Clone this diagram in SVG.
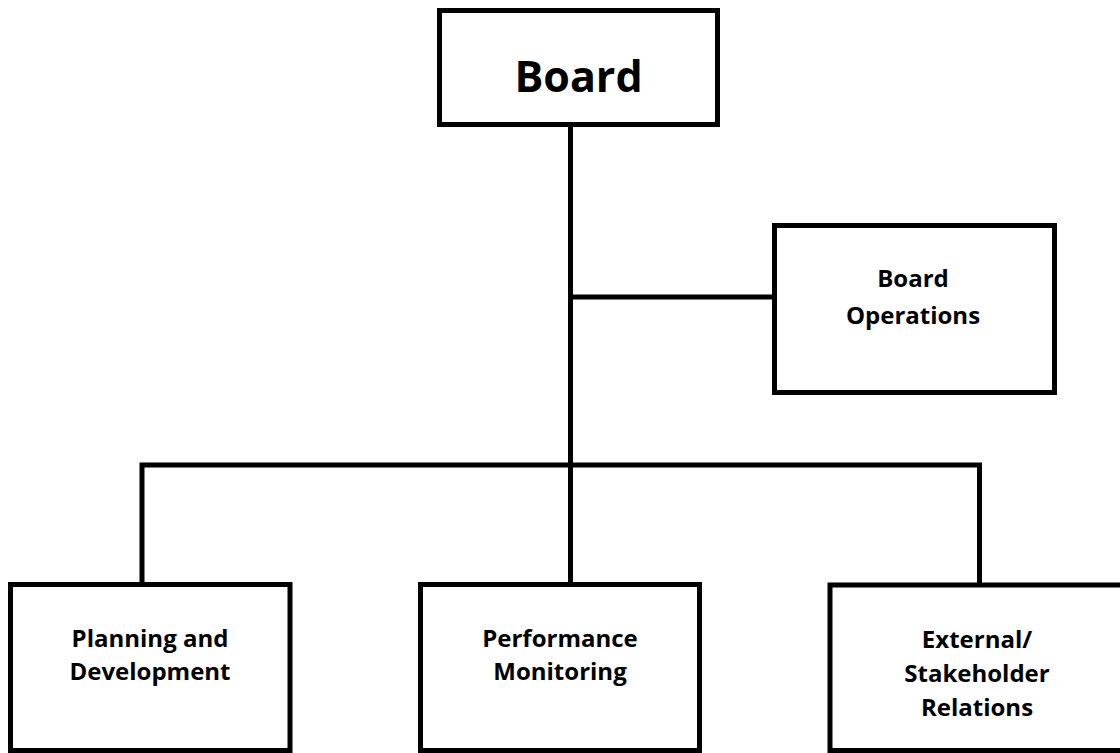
<svg xmlns="http://www.w3.org/2000/svg" width="1120" height="753" viewBox="0 0 1120 753">
<style>
.box{fill:#fff;stroke:#000;stroke-width:5}
.con{fill:none;stroke:#000;stroke-width:5;stroke-linejoin:miter;stroke-linecap:butt}
.t{font-family:"Open Sans","Liberation Sans",sans-serif;font-weight:bold;fill:#000;text-anchor:middle}
.big{font-size:43px}
.sm{font-size:24px}
</style>
<rect width="1120" height="753" fill="#fff"/>
<g id="connectors">
<path class="con" d="M570.5 127 V582"/>
<path class="con" d="M570.5 297 H773"/>
<path class="con" d="M142 583 V465 H979.5 V583"/>
</g>
<g id="board">
<rect class="box" x="439.5" y="10.5" width="278" height="114"/>
<text class="t big" x="578.5" y="92">Board</text>
</g>
<g id="board-operations">
<rect class="box" x="774.5" y="225.5" width="280" height="167"/>
<text class="t sm" x="913" y="287">Board</text>
<text class="t sm" x="913" y="324">Operations</text>
</g>
<g id="planning">
<rect class="box" x="10.5" y="584.5" width="279.5" height="166"/>
<text class="t sm" x="150" y="647">Planning and</text>
<text class="t sm" x="150" y="680">Development</text>
</g>
<g id="performance">
<rect class="box" x="420.5" y="584.5" width="279" height="166"/>
<text class="t sm" x="560" y="647">Performance</text>
<text class="t sm" x="560" y="680">Monitoring</text>
</g>
<g id="external">
<rect class="box" x="830" y="585" width="300" height="165.5"/>
<text class="t sm" x="977" y="648">External/</text>
<text class="t sm" x="977" y="682">Stakeholder</text>
<text class="t sm" x="977" y="716">Relations</text>
</g>
</svg>
